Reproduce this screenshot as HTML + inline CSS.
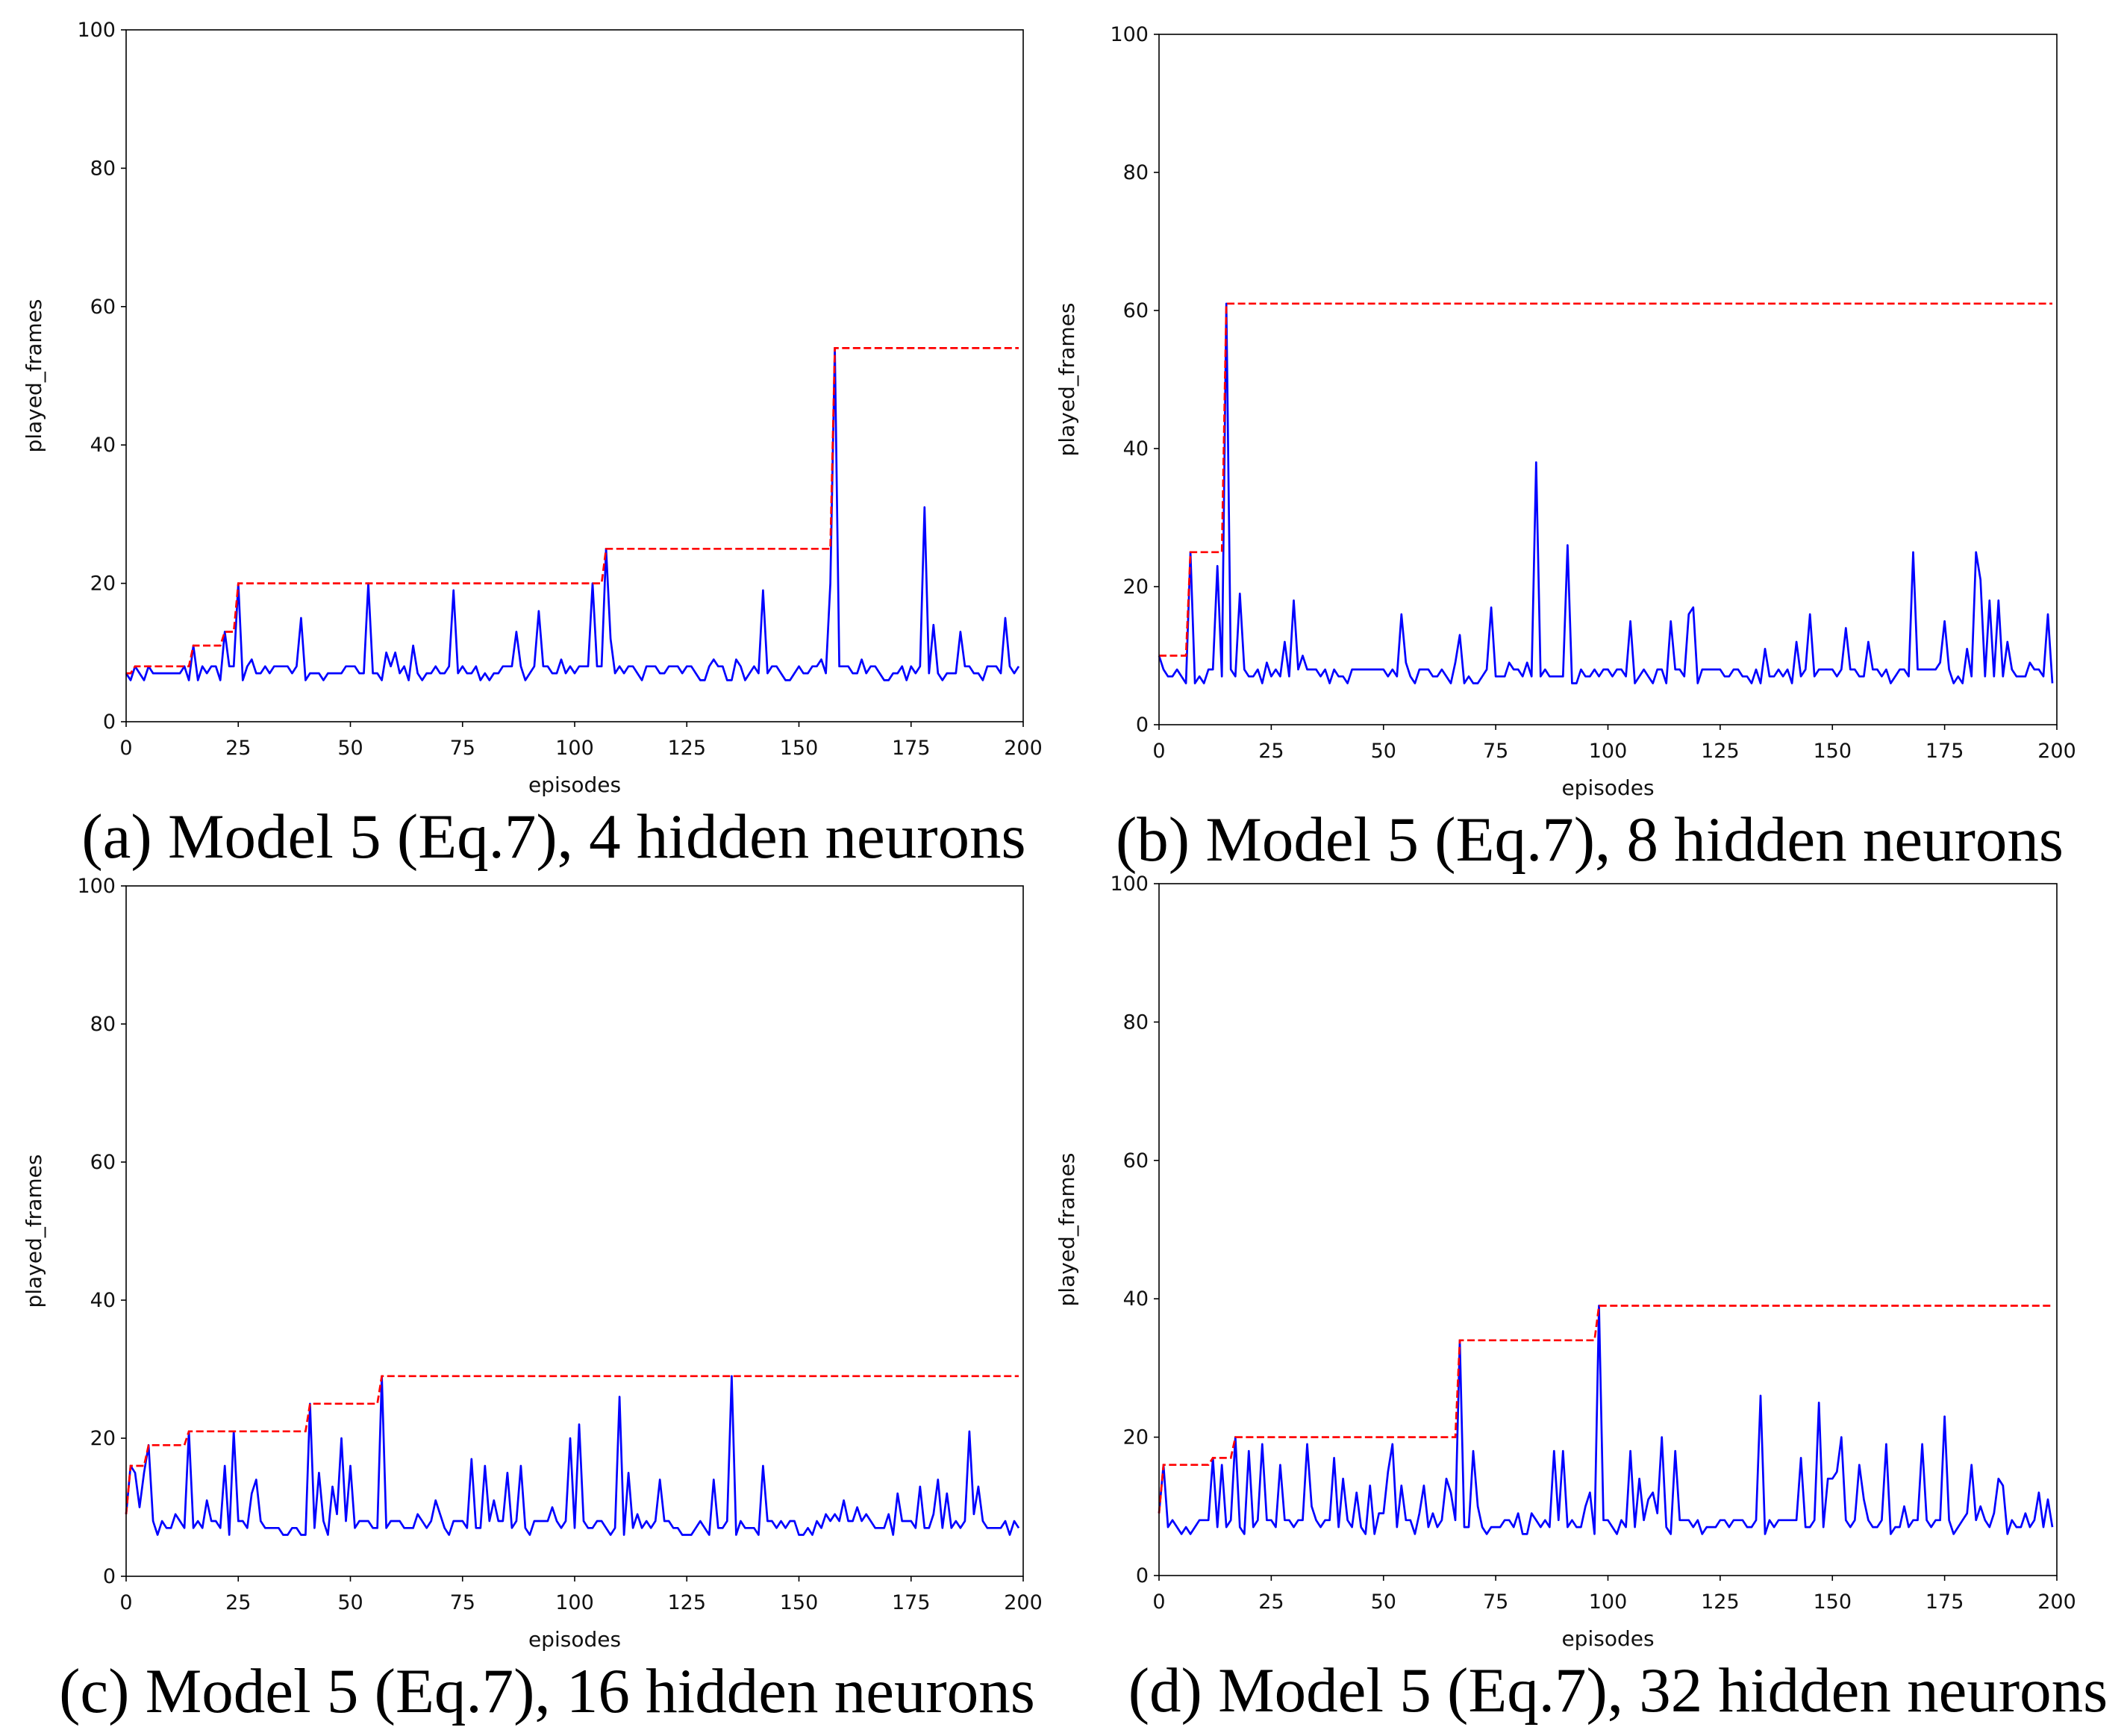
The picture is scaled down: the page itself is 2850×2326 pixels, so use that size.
<!DOCTYPE html>
<html><head><meta charset="utf-8"><style>
html,body{margin:0;padding:0;background:#fff}
svg{display:block}
</style></head><body>
<svg id="fig" width="2850" height="2326" viewBox="0 0 2850 2326" xmlns="http://www.w3.org/2000/svg"></svg>
<script>
const xTicks=[0,25,50,75,100,125,150,175,200];
const yTicks=[0,20,40,60,80,100];
const seriesA=[7,6,8,7,6,8,7,7,7,7,7,7,7,8,6,11,6,8,7,8,8,6,13,8,8,20,6,8,9,7,7,8,7,8,8,8,8,7,8,15,6,7,7,7,6,7,7,7,7,8,8,8,7,7,20,7,7,6,10,8,10,7,8,6,11,7,6,7,7,8,7,7,8,19,7,8,7,7,8,6,7,6,7,7,8,8,8,13,8,6,7,8,16,8,8,7,7,9,7,8,7,8,8,8,20,8,8,25,12,7,8,7,8,8,7,6,8,8,8,7,7,8,8,8,7,8,8,7,6,6,8,9,8,8,6,6,9,8,6,7,8,7,19,7,8,8,7,6,6,7,8,7,7,8,8,9,7,20,54,8,8,8,7,7,9,7,8,8,7,6,6,7,7,8,6,8,7,8,31,7,14,7,6,7,7,7,13,8,8,7,7,6,8,8,8,7,15,8,7,8];
const seriesB=[10,8,7,7,8,7,6,25,6,7,6,8,8,23,7,61,8,7,19,8,7,7,8,6,9,7,8,7,12,7,18,8,10,8,8,8,7,8,6,8,7,7,6,8,8,8,8,8,8,8,8,7,8,7,16,9,7,6,8,8,8,7,7,8,7,6,9,13,6,7,6,6,7,8,17,7,7,7,9,8,8,7,9,7,38,7,8,7,7,7,7,26,6,6,8,7,7,8,7,8,8,7,8,8,7,15,6,7,8,7,6,8,8,6,15,8,8,7,16,17,6,8,8,8,8,8,7,7,8,8,7,7,6,8,6,11,7,7,8,7,8,6,12,7,8,16,7,8,8,8,8,7,8,14,8,8,7,7,12,8,8,7,8,6,7,8,8,7,25,8,8,8,8,8,9,15,8,6,7,6,11,7,25,21,7,18,7,18,7,12,8,7,7,7,9,8,8,7,16,6];
const seriesC=[9,16,15,10,15,19,8,6,8,7,7,9,8,7,21,7,8,7,11,8,8,7,16,6,21,8,8,7,12,14,8,7,7,7,7,6,6,7,7,6,6,25,7,15,8,6,13,9,20,8,16,7,8,8,8,7,7,29,7,8,8,8,7,7,7,9,8,7,8,11,9,7,6,8,8,8,7,17,7,7,16,8,11,8,8,15,7,8,16,7,6,8,8,8,8,10,8,7,8,20,7,22,8,7,7,8,8,7,6,7,26,6,15,7,9,7,8,7,8,14,8,8,7,7,6,6,6,7,8,7,6,14,7,7,8,29,6,8,7,7,7,6,16,8,8,7,8,7,8,8,6,6,7,6,8,7,9,8,9,8,11,8,8,10,8,9,8,7,7,7,9,6,12,8,8,8,7,13,7,7,9,14,7,12,7,8,7,8,21,9,13,8,7,7,7,7,8,6,8,7];
const seriesD=[9,16,7,8,7,6,7,6,7,8,8,8,17,7,16,7,8,20,7,6,18,7,8,19,8,8,7,16,8,8,7,8,8,19,10,8,7,8,8,17,7,14,8,7,12,7,6,13,6,9,9,15,19,7,13,8,8,6,9,13,7,9,7,8,14,12,8,34,7,7,18,10,7,6,7,7,7,8,8,7,9,6,6,9,8,7,8,7,18,8,18,7,8,7,7,10,12,6,39,8,8,7,6,8,7,18,7,14,8,11,12,9,20,7,6,18,8,8,8,7,8,6,7,7,7,8,8,7,8,8,8,7,7,8,26,6,8,7,8,8,8,8,8,17,7,7,8,25,7,14,14,15,20,8,7,8,16,11,8,7,7,8,19,6,7,7,10,7,8,8,19,8,7,8,8,23,8,6,7,8,9,16,8,10,8,7,9,14,13,6,8,7,7,9,7,8,12,7,11,7];
const captions=["(a) Model 5 (Eq.7), 4 hidden neurons","(b) Model 5 (Eq.7), 8 hidden neurons","(c) Model 5 (Eq.7), 16 hidden neurons","(d) Model 5 (Eq.7), 32 hidden neurons"];

const NS="http://www.w3.org/2000/svg";
const svg=document.getElementById('fig');
function mk(tag,attrs,parent){const e=document.createElementNS(NS,tag);for(const k in attrs)e.setAttribute(k,attrs[k]);(parent||svg).appendChild(e);return e;}

const panels=[
 {s:seriesA,x0:169,x1:1371,y0:967,y1:40,id:'a',cx:742},
 {s:seriesB,x0:1553,x1:2756,y0:971,y1:46,id:'b',cx:2130},
 {s:seriesC,x0:169,x1:1371,y0:2112,y1:1187,id:'c',cx:733},
 {s:seriesD,x0:1553,x1:2756,y0:2111,y1:1184,id:'d',cx:2168}
];
panels.forEach((p,pi)=>{
  const g=mk('g',{});
  
  
  const X=v=>p.x0+(p.x1-p.x0)*v/200;
  const Y=v=>p.y0-(p.y0-p.y1)*v/100;
  let d='';p.s.forEach((v,i)=>{d+=(i?'L':'M')+X(i).toFixed(1)+' '+Y(v).toFixed(1);});
  const blue=mk('path',{d:d,fill:'none',stroke:'#0000ff','stroke-width':2.7,'stroke-linejoin':'round'},g);
  
  
  let m=-Infinity,dr='';p.s.forEach((v,i)=>{m=Math.max(m,v);dr+=(i?'L':'M')+X(i).toFixed(1)+' '+Y(m).toFixed(1);});
  const red=mk('path',{d:dr,fill:'none',stroke:'#ff0000','stroke-width':2.7,'stroke-dasharray':'10 4.5'},g);
  
  
  const fr=mk('rect',{x:p.x0,y:p.y1,width:p.x1-p.x0,height:p.y0-p.y1,fill:'none',stroke:'#000','stroke-width':1.6},g);
  
  
  xTicks.forEach(t=>{
    mk('line',{x1:X(t),x2:X(t),y1:p.y0,y2:p.y0+7,stroke:'#000','stroke-width':1.6},g);
    const tx=mk('text',{x:X(t),y:p.y0+44,'text-anchor':'middle','font-size':27,'font-family':'DejaVu Sans, sans-serif',fill:'#111'},g);
    tx.textContent=t;
    
    
  });
  yTicks.forEach(t=>{
    mk('line',{x1:p.x0-7,x2:p.x0,y1:Y(t),y2:Y(t),stroke:'#000','stroke-width':1.6},g);
    const ty=mk('text',{x:p.x0-14,y:Y(t)+9,'text-anchor':'end','font-size':27,'font-family':'DejaVu Sans, sans-serif',fill:'#111'},g);
    ty.textContent=t;
    
    
  });
  const xl=mk('text',{x:(p.x0+p.x1)/2,y:p.y0+94,'text-anchor':'middle','font-size':28,'font-family':'DejaVu Sans, sans-serif',fill:'#111'},g);
  xl.textContent='episodes';
  
  
  const yc=(p.y0+p.y1)/2;
  const yl=mk('text',{x:p.x0-114,y:yc,'text-anchor':'middle','font-size':28,'font-family':'DejaVu Sans, sans-serif',fill:'#111',transform:'rotate(-90 '+(p.x0-114)+' '+yc+')'},g);
  yl.textContent='played_frames';
  
  
  const cap=mk('text',{x:p.cx,y:p.y0+182,'text-anchor':'middle','font-size':85,'font-family':'Liberation Serif, serif',fill:'#000'},g);
  cap.textContent=captions[pi];
  
  
});
</script>
</body></html>
